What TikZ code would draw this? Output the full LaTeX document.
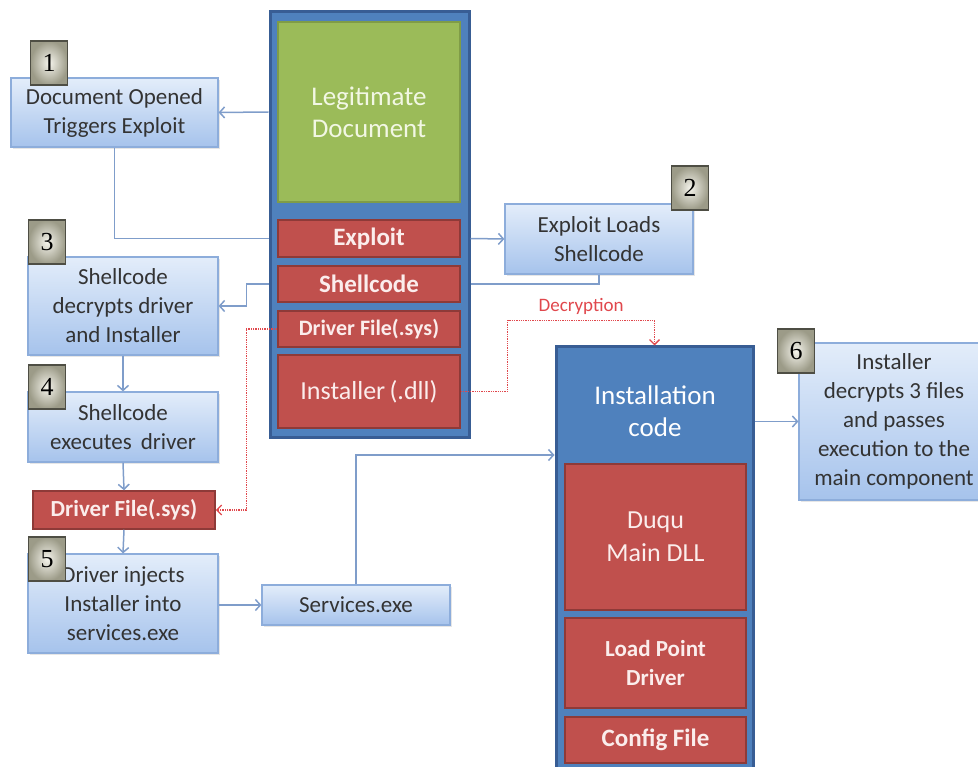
\documentclass[tikz,border=0pt]{standalone}
\usepackage{fontspec}
\setmainfont{Carlito}
\newfontfamily\numfont{Liberation Serif}
\usetikzlibrary{arrows.meta,shadows}

\definecolor{boxtop}{HTML}{E3EDFA}
\definecolor{boxbot}{HTML}{A6C3EC}
\definecolor{boxline}{HTML}{8DADDB}
\definecolor{boxtext}{HTML}{333333}
\definecolor{redfill}{HTML}{C0504D}
\definecolor{redline}{HTML}{8E3A38}
\definecolor{redtext}{HTML}{FBEDEC}
\definecolor{bluefill}{HTML}{4F81BD}
\definecolor{blueline}{HTML}{385D94}
\definecolor{greenfill}{HTML}{9BBB59}
\definecolor{greenline}{HTML}{7F9C47}
\definecolor{greentext}{HTML}{F2F7E4}
\definecolor{numin}{HTML}{F5F4EC}
\definecolor{numout}{HTML}{9C9B88}
\definecolor{numline}{HTML}{4E4E44}
\definecolor{conncol}{HTML}{7F9DCA}
\definecolor{decrcol}{HTML}{E0474C}

\begin{document}
\begin{tikzpicture}[x=1pt, y=-1pt]


 \tikzset{
    lbox/.style={
      draw=boxline, line width=1.2pt,
      top color=boxtop, bottom color=boxbot,
      text=boxtext, align=center, inner sep=0pt,
      font=\fontsize{23}{29}\selectfont,
      drop shadow={opacity=0.2, shadow xshift=1.5pt, shadow yshift=-2pt}
    },
    rbox/.style={
      draw=redline, line width=1.5pt, fill=redfill,
      text=redtext, align=center, inner sep=0pt
    },
    cbox/.style={
      draw=blueline, line width=3pt, fill=bluefill, inner sep=0pt
    },
    num/.style={
      draw=numline, line width=1.5pt,
      inner color=numin, outer color=numout,
      minimum width=37pt, minimum height=44pt, inner sep=0pt,
      font=\numfont\fontsize{26}{26}\selectfont
    },
    conn/.style={draw=conncol, line width=1.5pt, -{Straight Barb[length=5pt,width=11pt]}},
    wire/.style={draw=conncol, line width=1.5pt},
    decr/.style={draw=decrcol, line width=1.3pt, densely dotted, -{Straight Barb[length=5pt,width=10pt]}}
  }

\clip (0,0) rectangle (978,767);

% document container
\node[cbox, minimum width=199pt, minimum height=426pt] (docbox) at (369.5,225) {};
\node[draw=greenline, line width=1.5pt, fill=greenfill, text=greentext, align=center,
      minimum width=182pt, minimum height=180pt, font=\fontsize{27}{32}\selectfont] (legit) at (369,112) {Legitimate\\Document};
\node[rbox, minimum width=182pt, minimum height=37pt, font=\fontsize{25}{30}\selectfont\bfseries] (exploit) at (369,238.5) {Exploit};
\node[rbox, minimum width=182pt, minimum height=36pt, font=\fontsize{25}{30}\selectfont\bfseries] (shell) at (369,284) {Shellcode};
\node[rbox, minimum width=182pt, minimum height=36pt, font=\fontsize{22}{26}\selectfont\bfseries] (drvfile) at (369,329) {Driver File(.sys)};
\node[rbox, minimum width=182pt, minimum height=73pt, font=\fontsize{26}{30}\selectfont] (installer) at (369,391.5) {Installer\,(.dll)};

% installation container
\node[cbox, minimum width=197pt, minimum height=433pt] (instbox) at (654.5,563.5) {};
\node[text=white, align=center, font=\fontsize{27}{32}\selectfont] (instlbl) at (655,411) {Installation\\code};
\node[rbox, minimum width=181pt, minimum height=146pt, font=\fontsize{26}{33}\selectfont] (duqu) at (655.5,537) {Duqu\\Main DLL};
\node[rbox, minimum width=181pt, minimum height=90pt, font=\fontsize{23}{29}\selectfont\bfseries] (loadpt) at (655.5,663) {Load Point\\Driver};
\node[rbox, minimum width=181pt, minimum height=46pt, font=\fontsize{25}{30}\selectfont\bfseries] (config) at (655.5,740) {Config File};

% steps
\node[lbox, minimum width=207pt, minimum height=69pt] (opened) at (114.5,112.5) {Document Opened\\Triggers Exploit};
\node[lbox, minimum width=188pt, minimum height=70pt] (loads) at (599,239) {Exploit Loads\\Shellcode};
\node[lbox, minimum width=190pt, minimum height=98pt] (decrypts) at (123,306) {Shellcode\\decrypts driver\\and Installer};
\node[lbox, minimum width=190pt, minimum height=70pt] (executes) at (123,427) {Shellcode\\executes\, driver};
\node[rbox, minimum width=182pt, minimum height=38pt, font=\fontsize{23}{28}\selectfont\bfseries] (drv) at (124,510) {Driver File(.sys)};
\node[lbox, minimum width=190pt, minimum height=99pt] (injects) at (123,603.5) {Driver injects\\Installer into\\services.exe};
\node[lbox, minimum width=188pt, minimum height=40pt] (svc) at (356,605) {Services.exe};
\node[lbox, minimum width=190pt, minimum height=157pt] (passes) at (894,421.5) {Installer\\decrypts 3 files\\and passes\\execution to the\\main component};

\foreach \n/\px/\py in {1/49/63, 2/690/188, 3/47/242, 4/47/387, 5/47/559, 6/796/351}
    \node[num] (num\n) at (\px,\py) {\n};

% connectors
\draw[conn] (docbox.west |- legit) -- (opened.east);
\draw[wire] (opened.south) |- (docbox.west |- exploit);
\draw[conn] (docbox.east |- exploit) -- (loads.west);
\draw[wire] (loads.south) |- (docbox.east |- shell);
\draw[conn] (docbox.west |- shell) -- ++(-22,0) |- (decrypts.east);
\draw[conn] (decrypts.south) -- (executes.north);
\draw[conn] (executes.south) -- (drv.north);
\draw[conn] (drv.south) -- (injects.north);
\draw[conn] (injects.east |- svc) -- (svc.west);
\draw[conn] (svc.north) |- (instbox.west |- 0,455);
\draw[conn] (instbox.east |- passes) -- (passes.west);

\draw[decr] (drvfile.west) -- ++(-31,0) |- (drv.east);
\draw[decr] (installer.east) -- ++(47,0) -- ++(0,-71) -| node[pos=0.25, above=2pt, text=decrcol, font=\fontsize{19}{22}\selectfont] (declbl) {Decryption} (instbox.north);

\end{tikzpicture}
\end{document}
